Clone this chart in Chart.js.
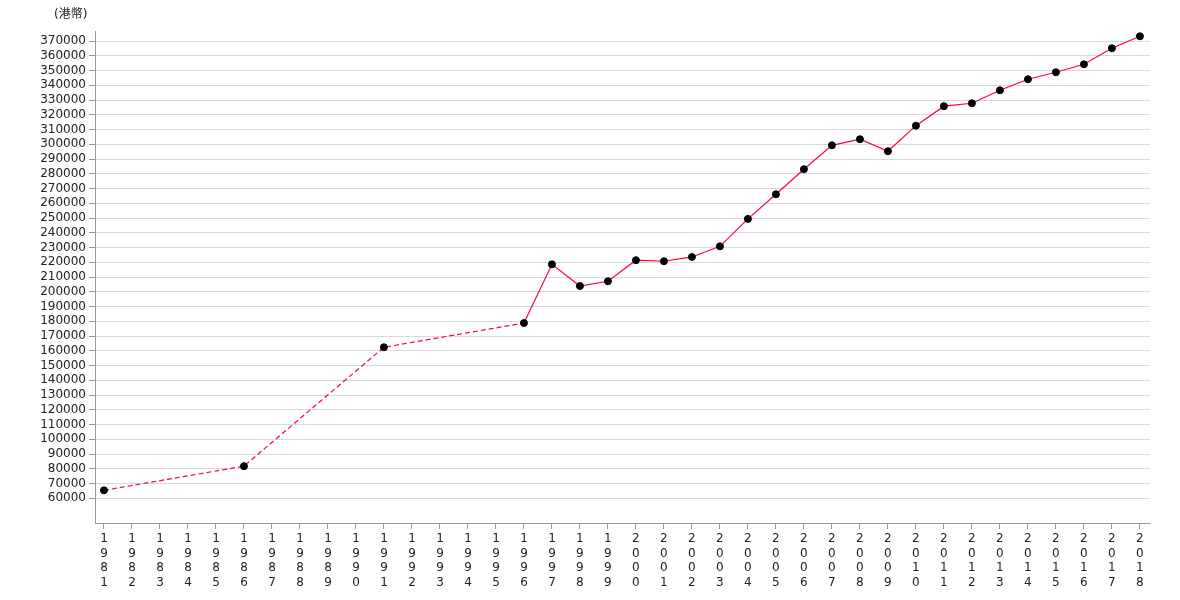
<!DOCTYPE html>
<html><head><meta charset="utf-8">
<script src="https://cdn.jsdelivr.net/npm/chart.js@4"></script>
<style>html,body{margin:0;padding:0;background:#fff}#wrap{width:1180px;height:600px}</style>
</head><body><div id="wrap"><canvas id="c"></canvas></div>
<script>
const unitLabel = '(港幣)';
const years = [1981,1986,1991,1996,1997,1998,1999,2000,2001,2002,2003,2004,2005,2006,2007,2008,2009,2010,2011,2012,2013,2014,2015,2016,2017,2018];
const values = [65400,81800,162400,178800,218600,203900,207100,221400,220700,223600,230800,249400,266100,283100,299300,303400,295300,312600,325800,327800,336600,344100,348800,354200,365100,373200];
const xTickYears = [];
for (let y = 1981; y <= 2018; y++) xTickYears.push(y);
const yTickValues = [];
for (let v = 60000; v <= 370000; v += 10000) yTickValues.push(v);

const FONT = "'DejaVu Sans', 'Noto Sans CJK TC', sans-serif";

const unitPlugin = {
  id: 'unitLabel',
  afterDraw(chart) {
    const ctx = chart.ctx;
    ctx.save();
    ctx.font = "12px 'DejaVu Sans', 'Noto Sans CJK TC', sans-serif";
    ctx.fillStyle = '#222';
    ctx.textBaseline = 'middle';
    ctx.textAlign = 'left';
    ctx.fillText(unitLabel, chart.chartArea.left - 41, 15);
    ctx.restore();
  }
};

new Chart(document.getElementById('c'), {
  type: 'line',
  data: {
    datasets: [{
      data: years.map((y, i) => ({x: y, y: values[i]})),
      borderColor: '#ff0033',
      borderWidth: 1.2,
      pointRadius: 3.5,
      pointHoverRadius: 3.5,
      pointBackgroundColor: '#000',
      pointBorderColor: '#000',
      pointBorderWidth: 1,
      tension: 0,
      segment: {
        borderDash: ctx => ctx.p1.parsed.x <= 1996 ? [5, 3] : undefined
      }
    }]
  },
  plugins: [unitPlugin],
  options: {
    responsive: true,
    maintainAspectRatio: false,
    animation: false,
    layout: {padding: {left: 0, right: 30, top: 31, bottom: 0}},
    plugins: {legend: {display: false}, tooltip: {enabled: false}},
    scales: {
      x: {
        type: 'linear',
        min: 1980.68,
        max: 2018.36,
        afterBuildTicks: s => { s.ticks = xTickYears.map(v => ({value: v})); },
        afterFit: s => { s.height = 77; },
        border: {color: '#999', width: 1},
        grid: {drawOnChartArea: false, color: '#999', tickLength: 6},
        ticks: {
          autoSkip: false,
          maxRotation: 0,
          minRotation: 0,
          padding: 3,
          color: '#222',
          font: {family: FONT, size: 12, lineHeight: 1.2},
          callback: v => String(v).split('')
        }
      },
      y: {
        type: 'linear',
        min: 43254,
        max: 376780,
        afterBuildTicks: s => { s.ticks = yTickValues.map(v => ({value: v})); },
        afterFit: s => { s.width = 95; },
        border: {color: '#999', width: 1},
        grid: {color: '#d9d9d9', tickColor: '#999', tickLength: 6},
        ticks: {
          autoSkip: false,
          padding: 3,
          color: '#222',
          font: {family: FONT, size: 12},
          callback: v => String(v)
        }
      }
    }
  }
});
</script>
</body></html>
